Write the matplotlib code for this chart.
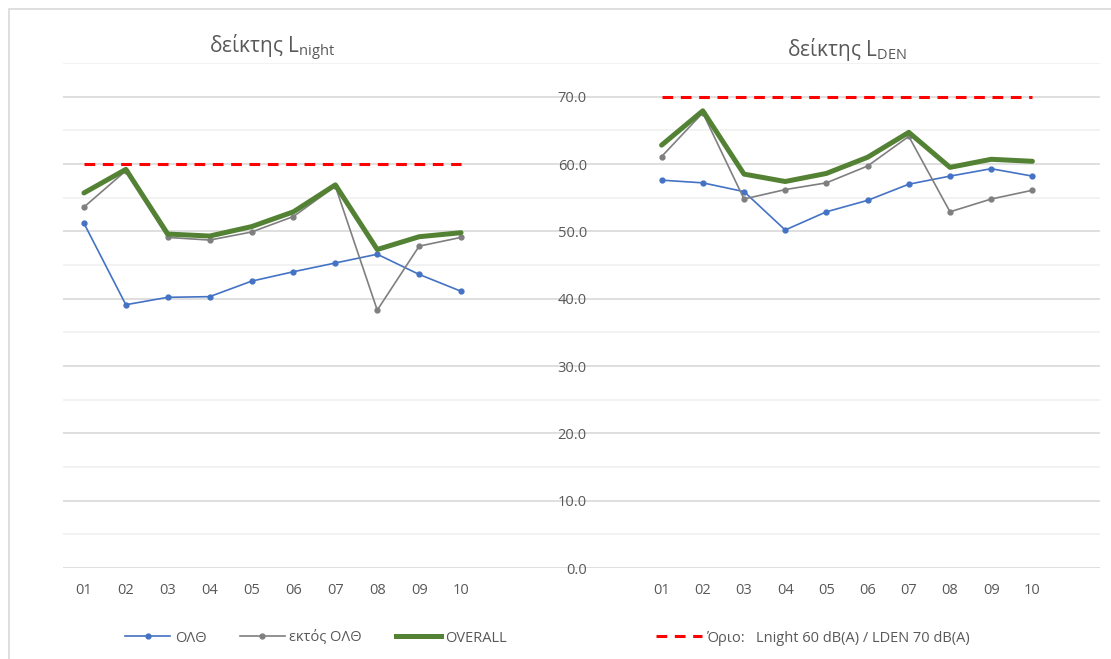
import matplotlib
matplotlib.use('Agg')
import matplotlib.pyplot as plt
from matplotlib.lines import Line2D
from matplotlib.patches import Rectangle
import numpy as np

plt.rcParams['font.family'] = ['Open Sans', 'DejaVu Sans']
plt.rcParams['mathtext.fontset'] = 'custom'
plt.rcParams['mathtext.rm'] = 'Open Sans'

MONTHS = ['01', '02', '03', '04', '05', '06', '07', '08', '09', '10']

# Lnight (dB(A))
NIGHT_OLTH = [51.2, 39.1, 40.2, 40.3, 42.6, 44.0, 45.3, 46.6, 43.6, 41.1]
NIGHT_EKTOS = [53.6, 59.0, 49.1, 48.7, 49.9, 52.2, 56.7, 38.3, 47.8, 49.1]
NIGHT_OVERALL = [55.7, 59.2, 49.6, 49.3, 50.7, 52.9, 56.9, 47.3, 49.2, 49.8]
NIGHT_LIMIT = 60

# LDEN (dB(A))
DEN_OLTH = [57.6, 57.2, 55.9, 50.2, 52.9, 54.6, 57.0, 58.2, 59.3, 58.2]
DEN_EKTOS = [61.1, 67.6, 54.8, 56.2, 57.2, 59.7, 64.1, 52.9, 54.8, 56.1]
DEN_OVERALL = [62.8, 67.9, 58.5, 57.4, 58.6, 61.0, 64.7, 59.5, 60.7, 60.4]
DEN_LIMIT = 70

C_BLUE = '#4472C4'
C_GRAY = '#7F7F7F'
C_GREEN = '#548235'
C_RED = '#FF0000'
C_TEXT = '#595959'

W, H = 1111, 659
fig = plt.figure(figsize=(W / 100, H / 100), dpi=100)


def px_rect(x0, y0, x1, y1):
    # pixel box (top-left origin) -> figure fraction rect
    return [x0 / W, 1 - y1 / H, (x1 - x0) / W, (y1 - y0) / H]


YTOP, YBOT = 63, 568
YMAX = 75

# shared background with the gridlines
bg = fig.add_axes(px_rect(63, YTOP, 1100, YBOT))
bg.set_ylim(0, YMAX)
bg.set_xlim(0, 1)
bg.set_yticks(np.arange(0, 71, 10))
bg.set_yticks(np.arange(5, 76, 10), minor=True)
bg.grid(True, which='major', axis='y', color='#D9D9D9', lw=1.2)
bg.grid(True, which='minor', axis='y', color='#F0F0F0', lw=1.2)
bg.tick_params(which='both', left=False, bottom=False, labelleft=False, labelbottom=False)
for s in bg.spines.values():
    s.set_visible(False)


def panel(rect, olth, ektos, overall, limit, title, show_y):
    ax = fig.add_axes(rect)
    ax.patch.set_alpha(0)
    x = np.arange(1, len(MONTHS) + 1)
    ax.plot(x, olth, color=C_BLUE, lw=1.2, marker='o', ms=3.5, zorder=3)
    ax.plot(x, ektos, color=C_GRAY, lw=1.2, marker='o', ms=3.5, zorder=3)
    ax.plot(x, overall, color=C_GREEN, lw=3.6, solid_capstyle='round', zorder=4)
    ax.plot(x, [limit] * len(x), color=C_RED, lw=2.2, ls=(0, (3.5, 2.5)), zorder=2)
    ax.set_xlim(0.5, len(MONTHS) + 0.5)
    ax.set_ylim(0, YMAX)
    ax.set_xticks(x)
    ax.set_xticklabels(MONTHS)
    ax.tick_params(axis='x', length=0, pad=11, labelsize=10.5, labelcolor=C_TEXT)
    if show_y:
        ax.set_yticks(np.arange(0, 71, 10))
        ax.set_yticklabels([f'{v:.1f}' for v in np.arange(0, 71, 10)])
        ax.tick_params(axis='y', length=0, pad=39, labelsize=10.5, labelcolor=C_TEXT)
    else:
        ax.set_yticks([])
    for s in ax.spines.values():
        s.set_visible(False)
    ax.set_title(title, fontsize=15, color=C_TEXT, pad=2)
    return ax


panel(px_rect(63, YTOP, 482, YBOT), NIGHT_OLTH, NIGHT_EKTOS, NIGHT_OVERALL,
      NIGHT_LIMIT, r'δείκτης L$_{\mathrm{night}}$', False)
panel(px_rect(641, YTOP, 1053, YBOT), DEN_OLTH, DEN_EKTOS, DEN_OVERALL,
      DEN_LIMIT, r'δείκτης L$_{\mathrm{DEN}}$', True)

h1 = [Line2D([], [], color=C_BLUE, lw=1.2, marker='o', ms=3.5),
      Line2D([], [], color=C_GRAY, lw=1.2, marker='o', ms=3.5),
      Line2D([], [], color=C_GREEN, lw=3.6)]
fig.legend(h1, ['ΟΛΘ', 'εκτός ΟΛΘ', 'OVERALL'], loc='center',
           bbox_to_anchor=(316 / W, 1 - 638 / H), ncol=3, frameon=False,
           fontsize=10.5, handlelength=3.1, handletextpad=0.3,
           columnspacing=2.3, labelcolor=C_TEXT)
h2 = [Line2D([], [], color=C_RED, lw=2.2, ls=(0, (3.5, 2.5)))]
fig.legend(h2, ['Όριο:   Lnight 60 dB(A) / LDEN 70 dB(A)'], loc='center',
           bbox_to_anchor=(813 / W, 1 - 638 / H), frameon=False,
           fontsize=10.5, handlelength=3.1, handletextpad=0.3, labelcolor=C_TEXT)

# chart frame
fig.add_artist(Rectangle((9 / W, -0.05), 1.1, 1 - 9 / H + 0.05,
                         transform=fig.transFigure, fill=False,
                         edgecolor='#D9D9D9', lw=1.2))

fig.savefig('out.png', dpi=100)
